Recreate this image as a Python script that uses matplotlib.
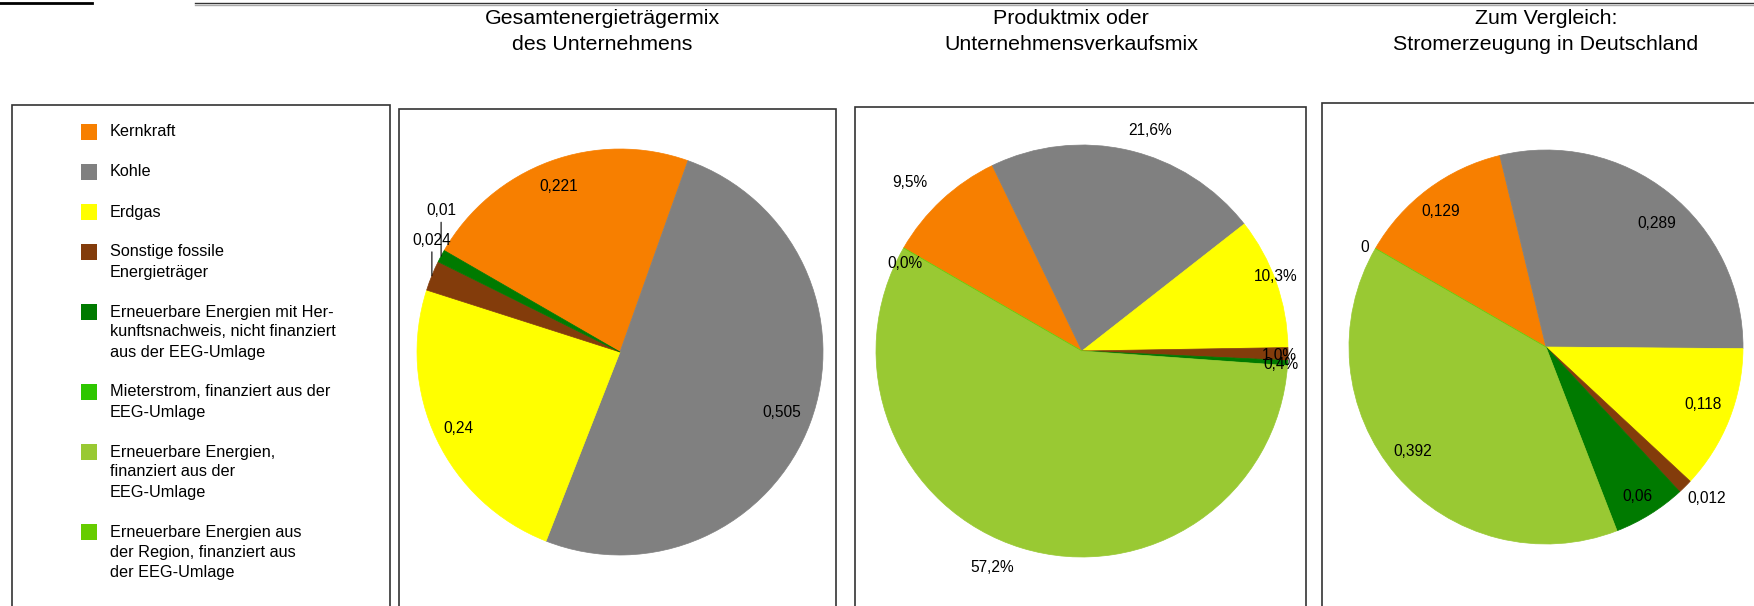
import matplotlib
matplotlib.use("Agg")
import matplotlib.pyplot as plt
import numpy as np
from matplotlib.patches import Rectangle
from matplotlib.lines import Line2D

plt.rcParams["font.family"] = ["Liberation Sans", "DejaVu Sans"]

# --- data -----------------------------------------------------------------
categories = [
    "Kernkraft",
    "Kohle",
    "Erdgas",
    "Sonstige fossile\nEnergieträger",
    "Erneuerbare Energien mit Her-\nkunftsnachweis, nicht finanziert\naus der EEG-Umlage",
    "Mieterstrom, finanziert aus der\nEEG-Umlage",
    "Erneuerbare Energien,\nfinanziert aus der\nEEG-Umlage",
    "Erneuerbare Energien aus\nder Region, finanziert aus\nder EEG-Umlage",
]
colors = ["#F77F00", "#808080", "#FFFF00", "#833C0B",
          "#007A00", "#2EC600", "#99C933", "#66CC00"]

titles = ["Gesamtenergieträgermix\ndes Unternehmens",
          "Produktmix oder\nUnternehmensverkaufsmix",
          "Zum Vergleich:\nStromerzeugung in Deutschland"]

# None = not part of that chart
mix_unternehmen = [0.221, 0.505, 0.24, 0.024, 0.01, None, None, None]
mix_produkt = [9.5, 21.6, 10.3, 1.0, 0.4, None, 57.2, 0.0]
mix_deutschland = [0.129, 0.289, 0.118, 0.012, 0.06, None, 0.392, 0]

# --- layout (pixels) ------------------------------------------------------
W, H = 1754, 606
fig = plt.figure(figsize=(W / 100, H / 100), dpi=100)


def fx(x):
    return x / W


def fy(y):
    return 1 - y / H


# decorative page lines at the very top
fig.add_artist(Line2D([fx(0), fx(92)], [fy(3), fy(3)], color="black", lw=2.0))
fig.add_artist(Line2D([fx(195), fx(W)], [fy(2.5), fy(2.5)], color="#333333", lw=1.0))
fig.add_artist(Line2D([fx(195), fx(W)], [fy(4.5), fy(4.5)], color="#aaaaaa", lw=1.0))

# frames (they run off the bottom of the page)
for left, top, right in [(12, 105, 390), (399, 109, 836), (855, 107, 1306), (1322, 103, 1800)]:
    fig.add_artist(Rectangle((fx(left), fy(H + 40)), fx(right - left), (H + 40 - top) / H,
                             transform=fig.transFigure, fill=False,
                             edgecolor="#333333", lw=1.2, clip_on=False))

# titles
for cx, title in zip([602, 1071, 1546], titles):
    for i, line in enumerate(title.split("\n")):
        fig.text(fx(cx), fy(19 + 25 * i), line, ha="center", va="center", fontsize=15.4)

# legend
y = 132
for cat, col in zip(categories, colors):
    fig.add_artist(Rectangle((fx(81), fy(y + 8)), fx(16), 16 / H,
                             transform=fig.transFigure, facecolor=col, edgecolor="none"))
    lines = cat.split("\n")
    for i, line in enumerate(lines):
        fig.text(fx(110), fy(y + 20 * i), line, ha="left", va="center", fontsize=11.7)
    y += 20 * (len(lines) + 1)


def draw_pie(values, cx, cy, r, fmt, label_r, angle_shift, leaders=()):
    span = 1.35
    ax = fig.add_axes([fx(cx - span * r), (H - cy - span * r) / H,
                       2 * span * r / W, 2 * span * r / H])
    idx = [i for i, v in enumerate(values) if v is not None]
    vals = [values[i] for i in idx]
    wedges, _ = ax.pie(vals, colors=[colors[i] for i in idx], startangle=150,
                       counterclock=False, radius=1.0,
                       wedgeprops=dict(linewidth=0.5))
    for w in wedges:
        w.set_edgecolor(w.get_facecolor())
    for k, (w, v) in enumerate(zip(wedges, vals)):
        mid = np.deg2rad((w.theta1 + w.theta2) / 2 + angle_shift[k])
        text = fmt(v)
        if k in leaders:
            ex, ey = np.cos(mid), np.sin(mid)
            ax.annotate(text, xy=(ex, ey), xytext=(0, leaders[k]),
                        textcoords="offset pixels", ha="center", va="bottom",
                        fontsize=11.2,
                        arrowprops=dict(arrowstyle="-", lw=0.8, color="black",
                                        shrinkA=1, shrinkB=0, relpos=(0.5, 0)))
        else:
            ax.text(label_r[k] * np.cos(mid), label_r[k] * np.sin(mid), text,
                    ha="center", va="center", fontsize=11.2)
    ax.set_xlim(-span, span)
    ax.set_ylim(-span, span)
    ax.set_aspect("equal")
    ax.axis("off")
    return ax


def fmt_dec(v):
    return f"{v:g}".replace(".", ",")


def fmt_pct(v):
    return f"{v:.1f}%".replace(".", ",")


draw_pie(mix_unternehmen, 620, 352, 203, fmt_dec,
         label_r=[0.87, 0.85, 0.88, 1.0, 1.0],
         angle_shift=[0, 0, 0, 0, 0],
         leaders={3: 28, 4: 38})
draw_pie(mix_produkt, 1082, 351, 206, fmt_pct,
         label_r=[1.17, 1.12, 1.01, 0.96, 0.97, 1.14, 0.96],
         angle_shift=[2.6, -4.0, 1.6, -0.4, -0.6, -5.5, 3.6])
draw_pie(mix_deutschland, 1546, 347, 197, fmt_dec,
         label_r=[0.87, 0.84, 0.85, 1.12, 0.89, 0.86, 1.05],
         angle_shift=[1.2, -3.4, 1.7, 1.8, -0.4, -2.3, 1.2])

fig.savefig("out.png", dpi=100)
